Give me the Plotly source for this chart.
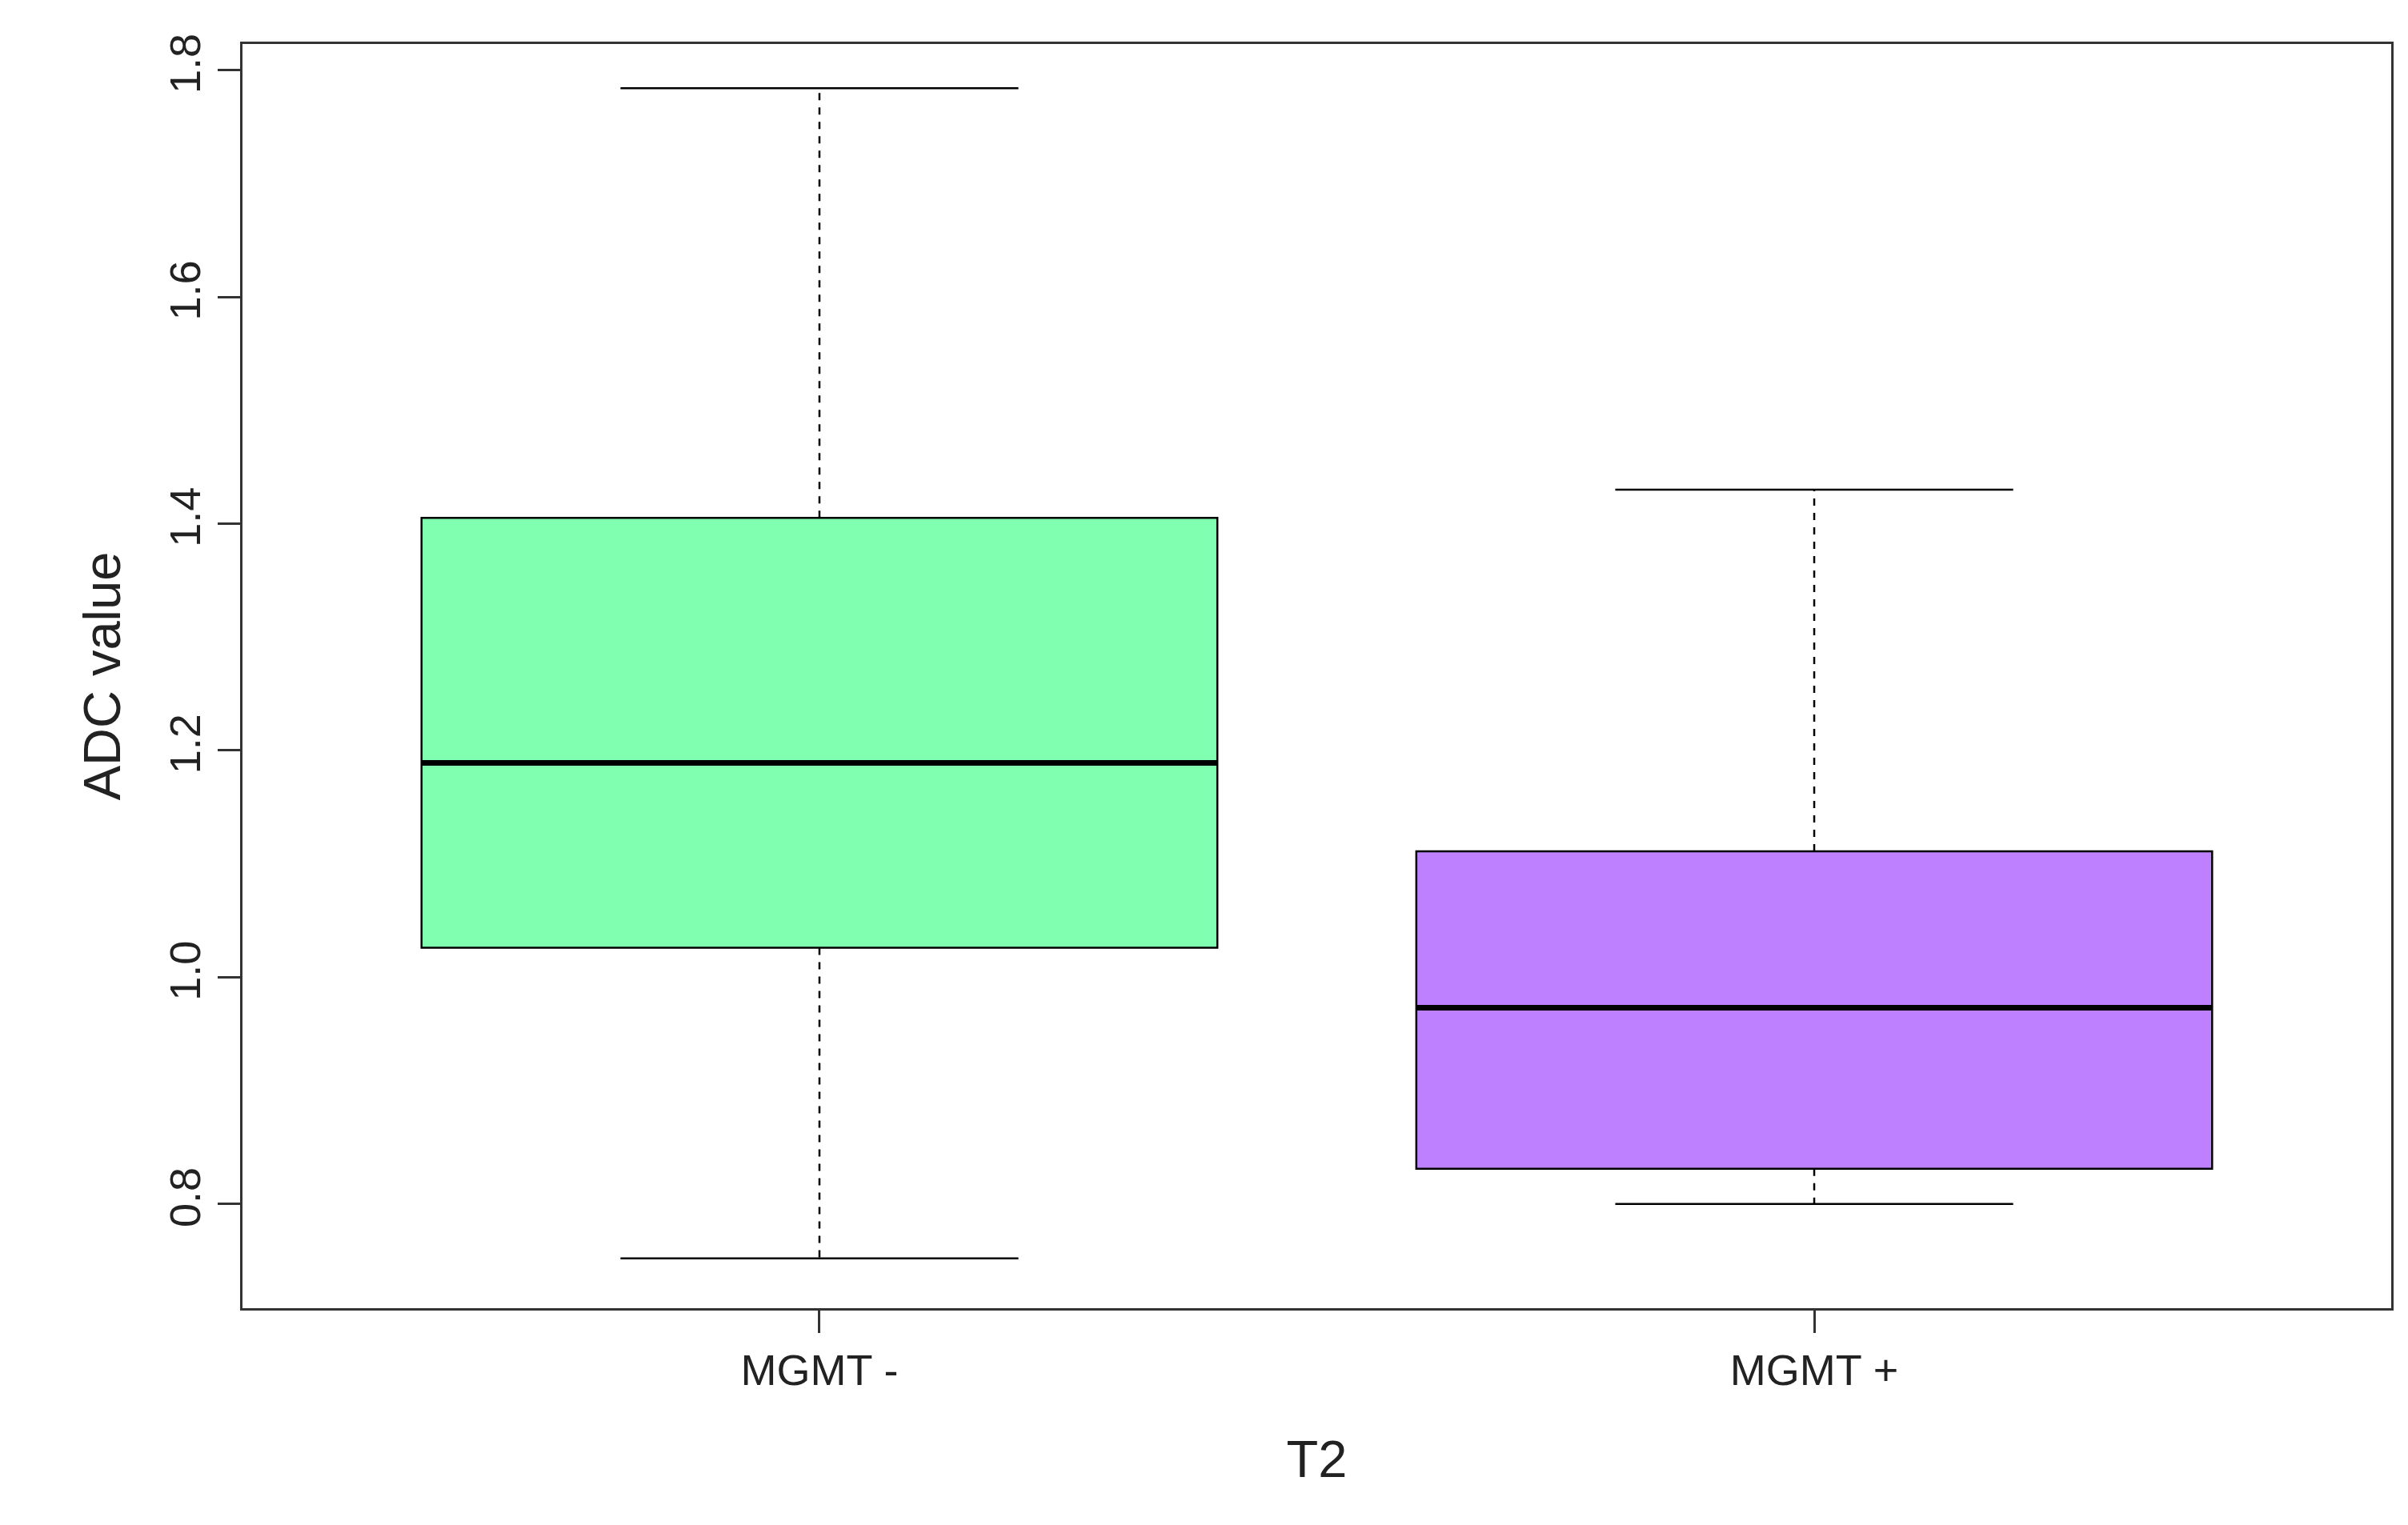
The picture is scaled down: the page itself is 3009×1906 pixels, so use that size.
import plotly.graph_objects as go

categories = ["MGMT -", "MGMT +"]
positions = [1, 2]
lower_whisker = [0.752, 0.800]
q1 = [1.026, 0.831]
median = [1.189, 0.973]
q3 = [1.405, 1.111]
upper_whisker = [1.784, 1.430]
colors = ["#80FFB0", "#BF80FF"]

BOX_W = 0.8
CAP_W = 0.4
fig = go.Figure()
for i in range(2):
    x = positions[i]
    # dashed whiskers
    fig.add_trace(go.Scatter(x=[x, x, None, x, x], y=[q3[i], upper_whisker[i], None, q1[i], lower_whisker[i]],
                             mode="lines", line=dict(color="black", width=2.5, dash="dash"), showlegend=False, hoverinfo="skip"))
    # caps
    fig.add_trace(go.Scatter(x=[x - CAP_W/2, x + CAP_W/2, None, x - CAP_W/2, x + CAP_W/2],
                             y=[upper_whisker[i], upper_whisker[i], None, lower_whisker[i], lower_whisker[i]],
                             mode="lines", line=dict(color="black", width=2.5), showlegend=False, hoverinfo="skip"))
    fig.add_trace(go.Box(x=[x], q1=[q1[i]], median=[median[i]], q3=[q3[i]], lowerfence=[q1[i]], upperfence=[q3[i]],
                         width=BOX_W, fillcolor=colors[i], line=dict(color="black", width=2.5),
                         whiskerwidth=0, showlegend=False, name=categories[i]))
    fig.add_trace(go.Scatter(x=[x - BOX_W/2, x + BOX_W/2], y=[median[i], median[i]], mode="lines",
                             line=dict(color="black", width=7), showlegend=False, hoverinfo="skip"))

font = dict(family="Liberation Sans, Arial", size=54, color="#222")
fig.update_layout(
    width=3009, height=1906, plot_bgcolor="white", paper_bgcolor="white",
    margin=dict(l=295, r=29, t=47, b=279), font=font,
    xaxis=dict(range=[0.42, 2.58], tickvals=positions, ticktext=categories, showgrid=False, zeroline=False,
               showline=True, mirror=True, linecolor="#333", linewidth=3, ticks="outside", ticklen=28, tickwidth=2.5,
               tickcolor="#333", title=dict(text="T2", standoff=60)),
    yaxis=dict(range=[0.708, 1.823], tickvals=[0.8, 1.0, 1.2, 1.4, 1.6, 1.8], ticktext=["0.8", "1.0", "1.2", "1.4", "1.6", "1.8"],
               tickangle=-90, showgrid=False, zeroline=False, showline=True, mirror=True, linecolor="#333", linewidth=3,
               ticks="outside", ticklen=28, tickwidth=2.5, tickcolor="#333", title=dict(text="ADC value", standoff=30)),
)
fig.write_html("out.html")
